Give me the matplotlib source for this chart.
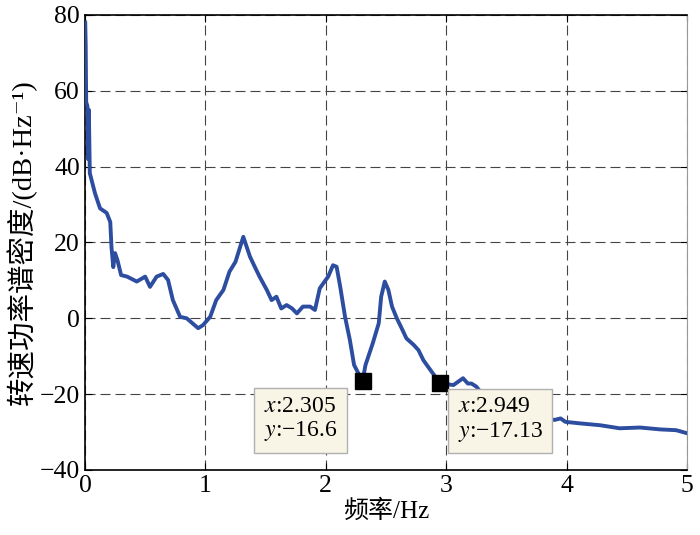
import numpy as np
import matplotlib
matplotlib.use("Agg")
import matplotlib.pyplot as plt

plt.rcParams['font.family'] = ['Liberation Serif', 'Noto Sans CJK SC', 'DejaVu Serif']
plt.rcParams['mathtext.fontset'] = 'stix'

# Kurvendaten
freq = [0.002, 0.006, 0.010, 0.020, 0.025, 0.032, 0.040, 0.083, 0.125, 0.18, 0.21,
        0.22, 0.235, 0.25, 0.27, 0.30, 0.35, 0.43, 0.50, 0.54, 0.595, 0.65, 0.69,
        0.73, 0.79, 0.845, 0.94, 0.98, 1.04, 1.09, 1.15, 1.20, 1.25, 1.315, 1.37,
        1.41, 1.45, 1.51, 1.55, 1.59, 1.63, 1.675, 1.72, 1.76, 1.81, 1.87, 1.91,
        1.95, 1.99, 2.02, 2.06, 2.09, 2.12, 2.16, 2.20, 2.235, 2.305, 2.33, 2.39,
        2.44, 2.46, 2.49, 2.52, 2.55, 2.59, 2.63, 2.67, 2.73, 2.77, 2.81, 2.85,
        2.949, 3.06, 3.14, 3.18, 3.21, 3.25, 3.35, 3.6, 3.90, 3.95, 3.99, 4.11,
        4.28, 4.44, 4.61, 4.78, 4.91, 5.0]
psd = [78, 72, 57, 56, 42, 55, 38.3, 33, 29, 27.8, 25.4,
       18.8, 13.5, 17.2, 15.3, 11.4, 11, 9.7, 11, 8.3, 11, 11.7, 10.1,
       4.8, 0.4, 0, -2.6, -1.8, 0.4, 4.8, 7.5, 12.3, 14.9, 21.5, 16.3,
       13.6, 11, 7.5, 4.8, 5.7, 2.6, 3.5, 2.6, 1.3, 3.1, 3.1, 2.2,
       7.9, 9.7, 11, 14, 13.6, 8.3, 0.4, -5.7, -12.3, -16.6, -12.3, -6.6,
       -1.3, 5.7, 9.7, 7.5, 3.1, 0, -2.6, -5.3, -7.0, -8.4, -11, -12.8,
       -17.13, -17.6, -15.8, -17.2, -17.2, -18, -22, -25, -26.8, -26.4, -27.3, -27.7,
       -28.2, -29, -28.8, -29.3, -29.5, -30.3]

# Markierte Punkte
mark_x = [2.305, 2.949]
mark_y = [-16.6, -17.13]
mark_labels = ["$x$:2.305\n$y$:\u221216.6", "$x$:2.949\n$y$:\u221217.13"]
label_pos = [(1.485, -20.4), (3.095, -20.6)]

fig = plt.figure(figsize=(7, 5.35), dpi=100)
ax = fig.add_axes([0.1214, 0.1215, 0.86, 0.8505])

ax.plot(freq, psd, color="#2d4da0", linewidth=2.8, zorder=3)
ax.plot(mark_x, mark_y, "s", color="black", markersize=12, zorder=4)

for (tx, ty), lab in zip(label_pos, mark_labels):
    ax.text(tx, ty, lab, fontsize=17, ha="left", va="top", linespacing=1.15, zorder=5,
            bbox=dict(boxstyle="square,pad=0.4", facecolor="#f8f4e6", edgecolor="#b0b0b0", linewidth=1))

ax.set_xlim(0, 5)
ax.set_ylim(-40, 80)
ax.set_xticks([0, 1, 2, 3, 4, 5])
ax.set_yticks([-40, -20, 0, 20, 40, 60, 80])
ax.grid(True, color="#444444", linestyle=(0, (9, 4.5)), linewidth=0.8)
ax.tick_params(direction="in", length=5, labelsize=18.5, top=True, right=True)
for s in ["left", "bottom", "top"]:
    ax.spines[s].set_color("black")
    ax.spines[s].set_linewidth(1.2)
ax.spines["right"].set_color("#999999")

ax.set_xlabel("频率/Hz", fontsize=18, labelpad=2)
ax.set_ylabel("转速功率谱密度/(dB·Hz\u207b\u00b9)", fontsize=20.5, labelpad=2)

fig.savefig("out.png", dpi=100)
